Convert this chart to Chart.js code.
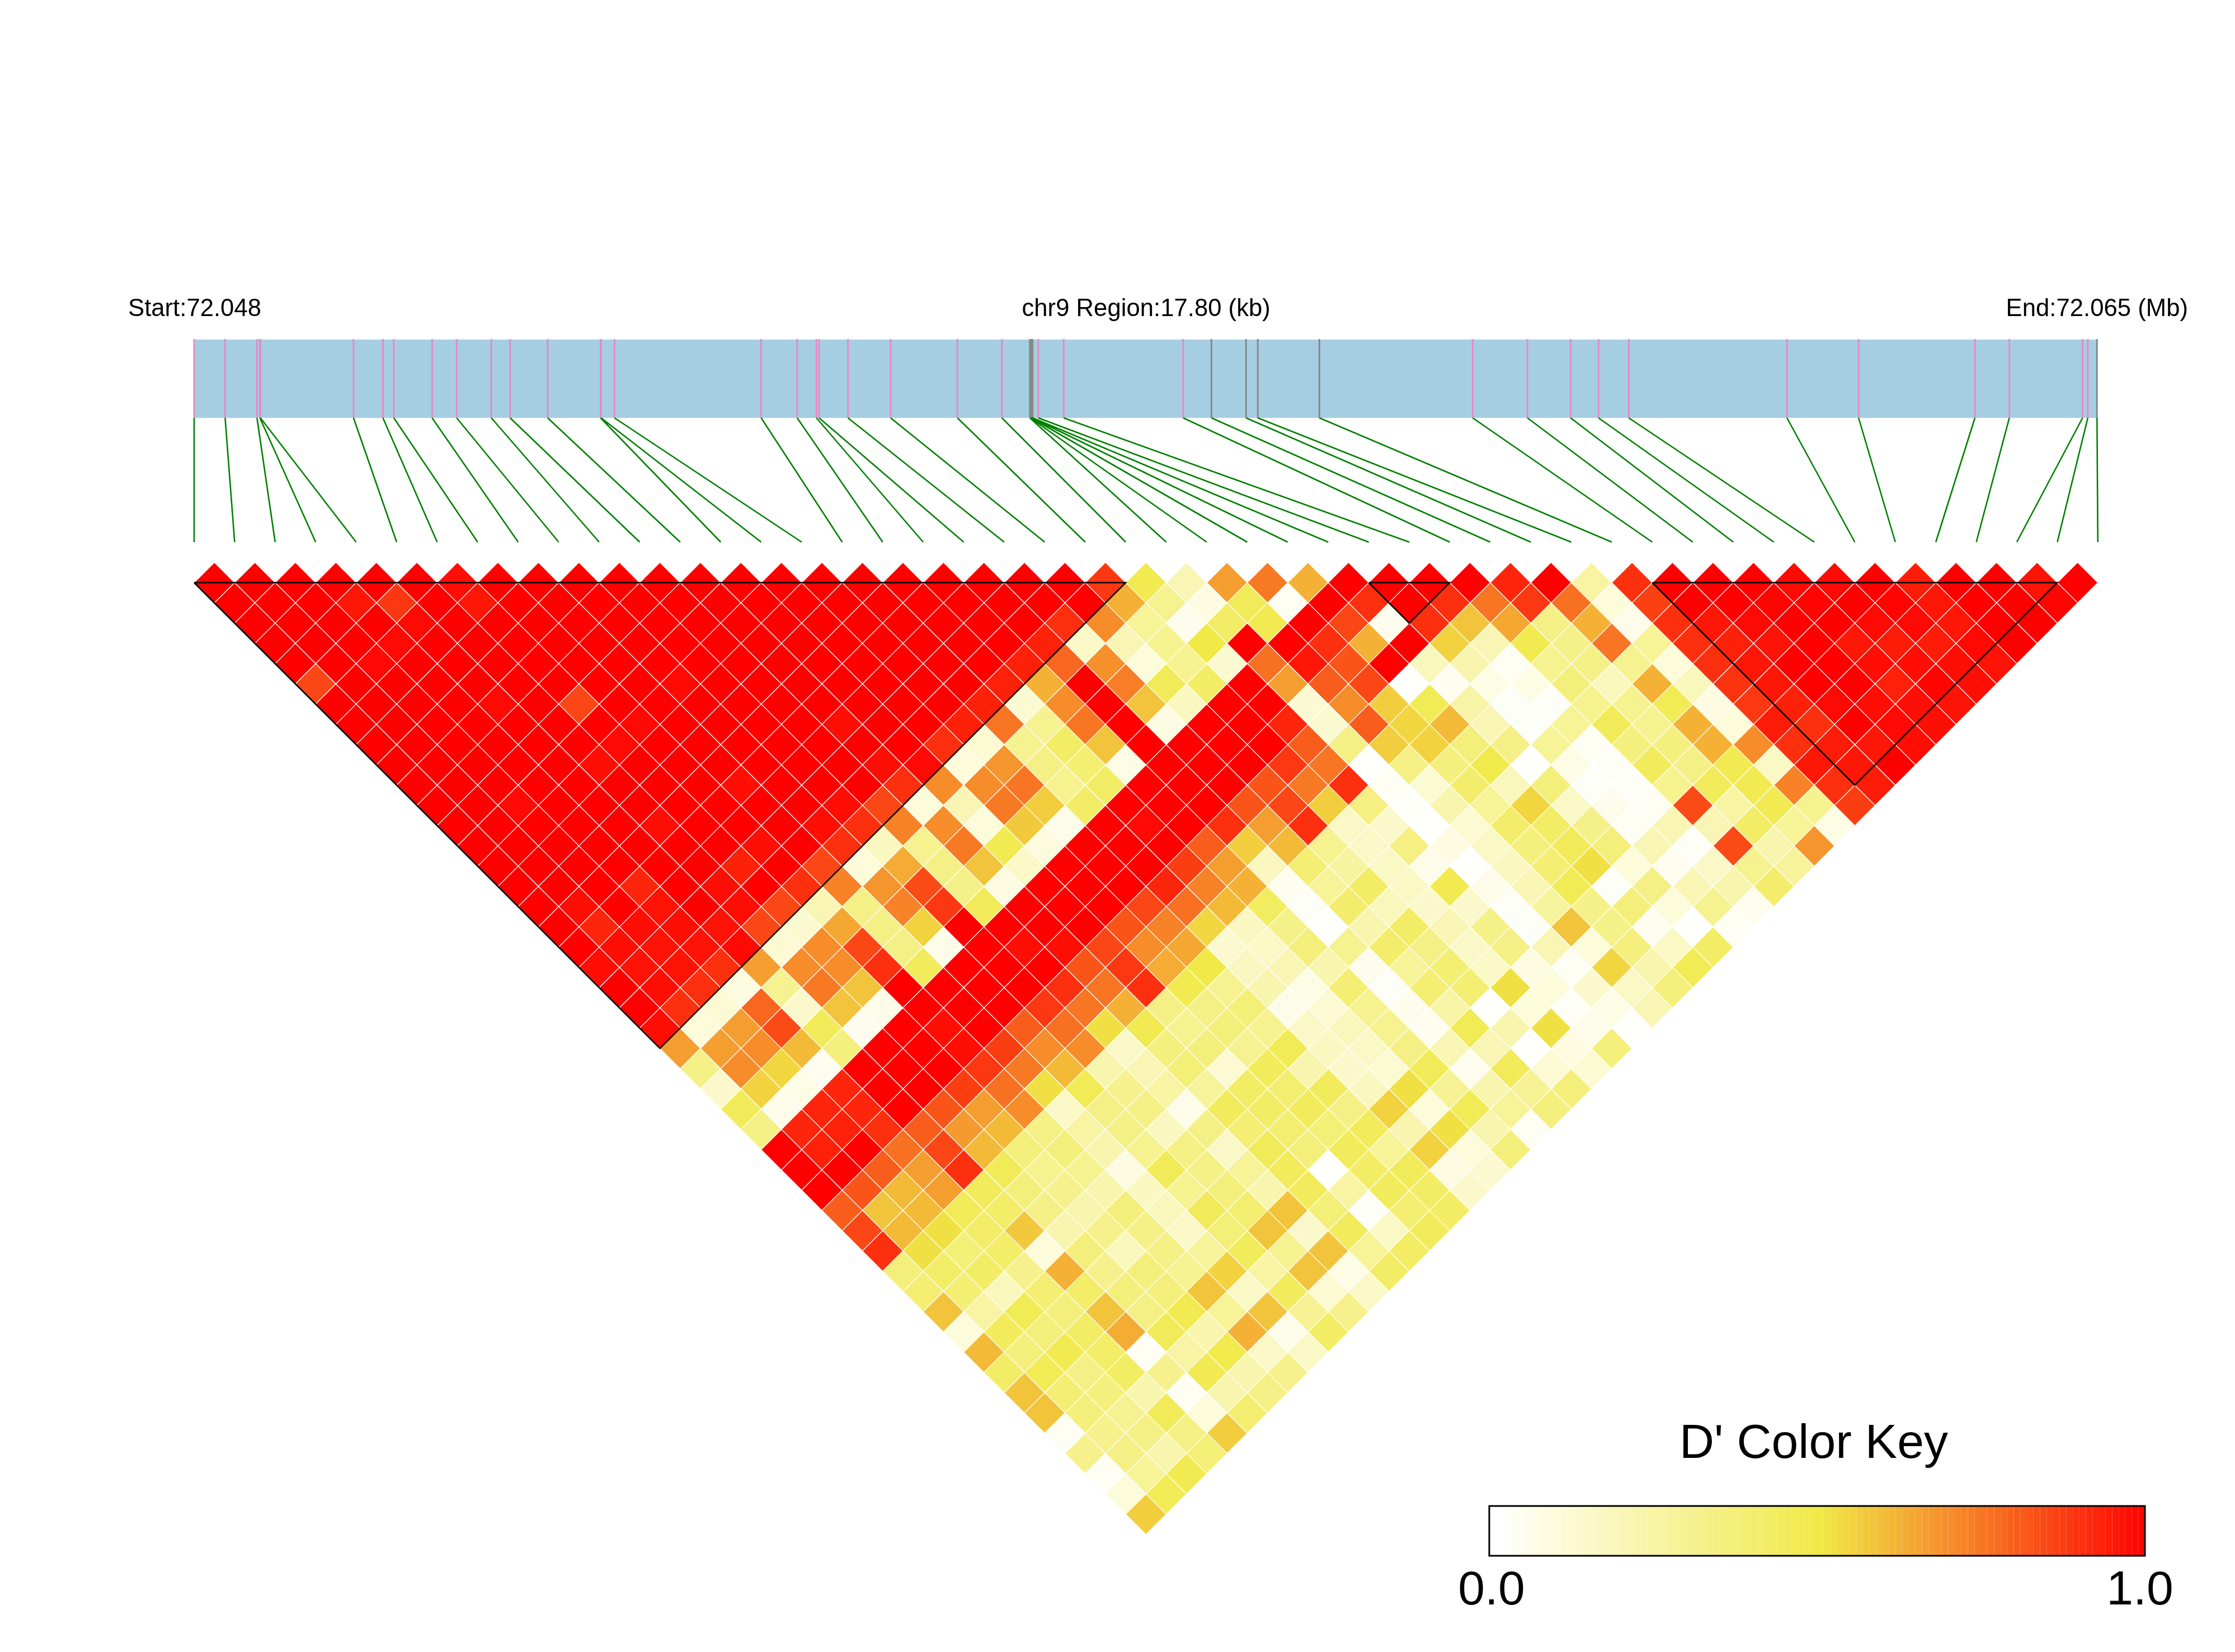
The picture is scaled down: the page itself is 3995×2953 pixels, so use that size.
<!DOCTYPE html>
<html>
<head>
<meta charset="utf-8">
<title>LD heatmap</title>
<style>
  html, body { margin: 0; padding: 0; background: #fff; }
  canvas { display: block; }
</style>
<script src="https://cdn.jsdelivr.net/npm/chart.js@4/dist/chart.umd.js"></script>
</head>
<body>
<canvas id="ldChart" width="3995" height="2953"></canvas>
<script>
// labels
const startLabel = 'Start:72.048';
const regionLabel = 'chr9 Region:17.80 (kb)';
const endLabel = 'End:72.065 (Mb)';
const keyTitle = "D' Color Key";
const keyTicks = ['0.0', '1.0'];

// SNP positions in kb from the region start
const snpKb = [0, 0.29, 0.588, 0.615, 0.62, 1.491, 1.766, 1.868, 2.226, 2.456, 2.78, 2.956, 3.307, 3.802, 3.807, 3.932,
  5.304, 5.641, 5.821, 5.846, 6.116, 6.515, 7.14, 7.556, 7.818, 7.823, 7.831, 7.838, 7.844, 7.896, 8.134, 9.252,
  9.516, 9.84, 9.95, 10.526, 11.96, 12.472, 12.876, 13.137, 13.42, 14.9, 15.57, 16.658, 16.98, 17.665, 17.714, 17.8];
const greySnps = [24, 25, 26, 27, 28, 32, 33, 34, 35, 47];
const regionKb = 17.8;

// haplotype blocks, first and last SNP
const blocks = [[0, 23], [29, 31], [36, 46]];

// D' by SNP distance: dN holds the pairs (i, i+N), i = 0, 1, 2 ...
const d1 = [1,1,1,1,1,1,.97,1,1,1,1,1,1,1,1,1,1,1,1,1,1,1,.88,.47,.2,.66,.74,.62,1,1,1,1,.92,1,.25,.9,1,1,1,.98,.98,1,.94,1,1,.96,1];
const d2 = [1,1,1,.95,.88,1,.95,1,1,1,1,1,1,1,1,1,1,1,1,1,1,1,.62,.3,.08,.45,.03,1,.9,1,.9,.75,.88,.76,.1,.86,1,1,.99,.99,1,.99,.95,1,1,.99];
const d3 = [1,1,1,1,.98,1,1,1,1,1,1,1,1,1,1,1,1,1,1,1,.9,.7,.28,.05,.42,.47,1,.85,.05,.9,.58,.64,.33,.62,.06,.9,.95,.98,1,1,.98,.98,.95,1,1];
const d4 = [1,1,1,.98,1,1,1,1,1,1,1,1,1,1,1,1,1,1,1,.93,.15,.2,.3,.5,1,1,.9,.62,1,.55,.2,.47,.32,.75,.28,.9,.93,.96,1,.95,.94,.94,.98,1];
const d5 = [1,1,.98,1,1,1,1,1,1,1,1,1,1,1,1,1,1,1,.93,.78,.69,.1,.3,.13,.76,.95,.82,1,.18,.22,.03,.3,.33,.3,.1,.9,.95,1,1,.97,.97,.97,.96];
const d6 = [.85,1,1,1,1,1,1,1,1,.98,1,1,1,1,1,1,1,.93,.62,1,.73,.45,.42,1,.66,.8,.85,.01,.04,.07,.07,.36,.18,.62,.18,.89,.95,1,1,.93,.99,.97];
const d7 = [1,1,1,1,.98,1,.85,1,1,1,1,1,1,1,1,1,.93,.12,.7,1,.58,.17,1,1,.12,.7,.56,.46,.24,.02,.02,.3,.3,.46,.08,.88,.93,.98,.97,.97,.96];
const d8 = [1,1,1,1,1,1,1,.98,1,1,1,1,.97,1,1,.93,.75,.3,.75,1,.08,1,1,.92,.13,.8,.54,.6,.2,.02,.28,.45,.3,.62,.1,.94,.9,1,.98,.97];
const d9 = [1,1,1,1,1,1,.98,1,1,1,1,1,1,1,.9,.12,.3,.42,.58,1,1,1,1,.8,.33,.56,.55,.36,.33,.28,.03,.35,.35,.62,.7,.9,.94,.95,.97];
const d10 = [1,1,1,1,1,.97,1,1,1,1,1,1,.97,.98,.1,.68,.33,.38,.07,1,1,1,.88,.75,.01,.33,.35,.48,.01,.07,.02,.44,.33,.47,.16,.95,.95,1];
const d11 = [1,1,1,1,1,1,1,1,.97,1,1,1,.9,.7,.7,.75,.3,.42,1,1,1,.82,.74,.9,.03,.12,.4,.18,.36,.02,.02,.3,.44,.47,.72,.9,.94];
const d12 = [1,1,.98,1,1,1,1,1,1,1,.97,.85,.1,.2,.74,.56,.42,1,1,1,.82,.85,.56,.34,.02,.22,.28,.54,.16,.05,.03,.84,.25,.47,.3,.87];
const d13 = [1,1,1,1,1,.97,1,1,1,.97,.9,.72,.7,.1,.57,.06,1,.98,1,.9,.66,.9,.15,.14,.01,.12,.4,.42,.32,.03,.2,.2,.42,.28,.07];
const d14 = [1,1,1,1,1,1,1,.97,1,.9,.17,.3,.74,.47,.09,1,1,1,.8,.56,.6,.3,.15,.34,.08,.16,.36,.45,.36,.2,.02,.84,.22,.68];
const d15 = [1,1,1,1,1,1,.93,1,.85,.1,.63,.33,.58,.15,1,1,1,.87,.66,.17,.38,.26,.16,.06,.01,.17,.38,.52,.1,.04,.15,.3,.27];
const d16 = [1,1,1,.92,1,.97,1,.9,.72,.68,.84,.32,.08,1,1,1,.92,.72,.62,.04,.28,.42,.16,.47,.06,.2,.46,.02,.33,.2,.22,.4];
const d17 = [1,.97,1,.96,1,.97,.85,.2,.33,.72,.88,.45,1,1,1,.85,.76,.6,.43,.02,.4,.18,.14,.14,.02,.26,.32,.36,.1,.3,.04];
const d18 = [1,.92,.97,.97,.96,.85,.13,.64,.33,.55,1,1,1,1,.82,.72,.54,.17,.32,.01,.22,.42,.2,.32,.02,.58,.32,.04,.01,.03];
const d19 = [1,.97,.96,.96,.98,.12,.7,.85,.33,.06,1,.97,.97,.85,.7,.64,.13,.16,.36,.3,.4,.33,.15,.33,.2,.1,.35,.16,.42];
const d20 = [.97,.96,.96,.9,.66,.7,.7,.9,.44,1,1,1,.82,.88,.63,.5,.17,.2,.22,.05,.28,.38,.16,.08,.03,.54,.22,.46];
const d21 = [1,.97,.9,.08,.3,.74,.58,1,1,1,1,.9,.75,.9,.47,.3,.22,.07,.38,.02,.38,.38,.52,.1,.14,.16,.36];
const d22 = [1,.9,.12,.78,.14,.58,.06,1,1,1,.88,.75,.62,.33,.33,.37,.06,.12,.3,.05,.24,.01,.1,.03,.07,.2];
const d23 = [.97,.1,.66,.84,.45,.05,1,.97,1,.8,.76,.52,.47,.3,.36,.3,.15,.18,.3,.04,.46,.22,.52,.06,.01];
const d24 = [.66,.66,.7,.6,.35,1,1,.97,.87,.7,.7,.15,.35,.36,.29,.46,.17,.16,.33,.2,.2,.01,.08,.36];
const d25 = [.33,.7,.54,.04,1,1,1,.88,.74,.6,.22,.2,.37,.12,.44,.22,.14,.12,.45,.04,.45,.12,.12];
const d26 = [.14,.55,.07,.92,1,1,.87,.76,.52,.46,.31,.25,.27,.42,.39,.44,.17,.52,.29,.22,.29,.36];
const d27 = [.45,.06,.92,.92,1,.82,.66,.7,.15,.33,.33,.06,.44,.42,.44,.33,.55,.1,.46,.28,.35];
const d28 = [.33,.92,.93,.9,.8,.67,.6,.33,.25,.33,.17,.33,.38,.39,.37,.44,.22,.52,.22,.03];
const d29 = [1,.93,1,.76,.85,.6,.36,.36,.22,.3,.33,.15,.45,.36,.44,.28,.55,.1,.36];
const d30 = [1,1,.8,.66,.9,.45,.3,.3,.08,.45,.33,.28,.44,.01,.42,.45,.08,.13];
const d31 = [1,.82,.6,.66,.44,.36,.31,.22,.17,.3,.36,.22,.44,.25,.44,.42,.14];
const d32 = [.8,.58,.6,.45,.41,.33,.22,.36,.18,.45,.39,.58,.37,.02,.38,.42];
const d33 = [.85,.6,.52,.41,.57,.22,.31,.33,.15,.37,.58,.14,.44,.16,.44];
const d34 = [.9,.52,.37,.41,.1,.36,.18,.33,.27,.44,.3,.58,.28,.42];
const d35 = [.36,.41,.42,.31,.62,.31,.36,.3,.55,.25,.58,.07,.42];
const d36 = [.38,.38,.18,.38,.41,.36,.36,.58,.16,.44,.12,.15];
const d37 = [.58,.25,.46,.36,.58,.33,.47,.28,.58,.29,.31];
const d38 = [.1,.44,.36,.42,.63,.45,.22,.62,.06,.42];
const d39 = [.6,.36,.47,.41,.03,.25,.48,.15,.15];
const d40 = [.42,.46,.33,.42,.31,.47,.22,.31];
const d41 = [.58,.38,.35,.22,.03,.22,.33];
const d42 = [.58,.36,.29,.45,.1,.39];
const d43 = [.03,.31,.33,.33,.56];
const d44 = [.31,.33,.22,.37];
const d45 = [.03,.28,.47];
const d46 = [.1,.46];
const d47 = [.56];

const rows = [d1, d2, d3, d4, d5, d6, d7, d8, d9, d10, d11, d12, d13, d14, d15, d16, d17, d18, d19, d20, d21, d22, d23, d24,
  d25, d26, d27, d28, d29, d30, d31, d32, d33, d34, d35, d36, d37, d38, d39, d40, d41, d42, d43, d44, d45, d46, d47];

// page geometry
const W = 3995;
const H = 2953;
const snpStep = 72.4;
const heatLeft = 347;
const heatTop = 1041.5;
const trackTop = 607;
const trackBottom = 747;
const trackRight = 3748.3;
const connectorEnd = 969;
const keyLeft = 2662;
const keyRight = 3834;
const keyTop = 2692;
const keyBottom = 2781;

function dPrimeColor(v) {
  const low = [255, 255, 255], mid = [240, 233, 70], high = [255, 0, 0];
  const a = v < 0.5 ? low : mid;
  const b = v < 0.5 ? mid : high;
  const t = v < 0.5 ? v / 0.5 : (v - 0.5) / 0.5;
  const c = a.map((s, n) => Math.round(s + (b[n] - s) * t));
  return `rgb(${c[0]},${c[1]},${c[2]})`;
}

const kbToPx = kb => heatLeft + kb / regionKb * (trackRight - heatLeft);
const gap = { x: NaN, y: NaN };

// heatmap cells, x in SNP index, y in rows below the top
const cells = [];
const cellColors = [];
rows.forEach((values, r) => {
  const dist = r + 1;
  values.forEach((v, i) => {
    cells.push({ x: i + dist / 2, y: dist });
    cellColors.push(dPrimeColor(v));
  });
});

const blockLines = blocks.map(([a, b]) => ({
  type: 'scatter', showLine: true, pointRadius: 0, borderColor: '#000', borderWidth: 2.5, order: 1,
  xAxisID: 'xSnp', yAxisID: 'yRow',
  data: [{ x: a, y: 1 }, { x: b, y: 1 }, { x: (a + b) / 2, y: b - a + 1 }, { x: a, y: 1 }]
}));

const pinkTicks = [];
const greyTicks = [];
const connectors = [];
snpKb.forEach((kb, i) => {
  const px = kbToPx(kb);
  const ticks = greySnps.includes(i) ? greyTicks : pinkTicks;
  ticks.push({ x: px, y: trackTop - 1 }, { x: px, y: trackBottom }, gap);
  connectors.push({ x: px, y: trackBottom }, { x: heatLeft + i * snpStep, y: connectorEnd }, gap);
});

const keySteps = [];
for (let s = 0; s <= 100; s++) keySteps.push(s / 100);
const keyMid = (keyTop + keyBottom) / 2;

function pxLine(data, color, width, order, extra) {
  return Object.assign({
    type: 'scatter', showLine: true, pointRadius: 0, borderColor: color, borderWidth: width, order,
    borderCapStyle: 'butt', xAxisID: 'xPx', yAxisID: 'yPx', data
  }, extra);
}

// text goes on last, through the same pixel scales as the track and the key
const textPlugin = {
  id: 'ldText',
  afterDraw(chart) {
    const { ctx } = chart;
    const x = chart.scales.xPx;
    const y = chart.scales.yPx;
    ctx.save();
    ctx.fillStyle = '#000';
    ctx.textAlign = 'center';
    ctx.textBaseline = 'alphabetic';
    ctx.font = '43.7px "Liberation Sans"';
    ctx.fillText(startLabel, x.getPixelForValue(heatLeft + 1), y.getPixelForValue(565));
    ctx.fillText(regionLabel, x.getPixelForValue((heatLeft + trackRight) / 2 + 1), y.getPixelForValue(565));
    ctx.fillText(endLabel, x.getPixelForValue(trackRight), y.getPixelForValue(565));
    ctx.font = '86px "Liberation Sans"';
    ctx.fillText(keyTitle, x.getPixelForValue(3242), y.getPixelForValue(2606));
    ctx.fillText(keyTicks[0], x.getPixelForValue(keyLeft + 4), y.getPixelForValue(2868));
    ctx.fillText(keyTicks[1], x.getPixelForValue(3825), y.getPixelForValue(2868));
    ctx.restore();
  }
};

new Chart(document.getElementById('ldChart'), {
  type: 'scatter',
  data: {
    datasets: [
      ...blockLines,
      {
        data: cells, xAxisID: 'xSnp', yAxisID: 'yRow', order: 2,
        pointStyle: 'rectRot', pointRadius: snpStep / 2, pointBorderColor: '#fff', pointBorderWidth: 1.2,
        pointBackgroundColor: cellColors
      },
      pxLine(connectors, '#008000', 2.6, 3),
      pxLine(pinkTicks, '#E78AC3', 3, 4),
      pxLine(greyTicks, '#888888', 3, 4),
      pxLine([{ x: heatLeft, y: (trackTop + trackBottom) / 2 }, { x: trackRight, y: (trackTop + trackBottom) / 2 }],
        '#A6CEE3', trackBottom - trackTop, 5),
      pxLine([{ x: keyLeft, y: keyTop }, { x: keyRight, y: keyTop }, { x: keyRight, y: keyBottom },
        { x: keyLeft, y: keyBottom }, { x: keyLeft, y: keyTop }], '#000', 3, 3, { borderCapStyle: 'square' }),
      pxLine(keySteps.map(v => ({ x: keyLeft + v * (keyRight - keyLeft), y: keyMid })), '#fff', keyBottom - keyTop, 4, {
        segment: {
          borderColor: ctx => dPrimeColor((ctx.p0.parsed.x - keyLeft) / (keyRight - keyLeft))
        }
      })
    ]
  },
  options: {
    responsive: false,
    devicePixelRatio: 1,
    animation: false,
    events: [],
    layout: { padding: 0, autoPadding: false },
    clip: false,
    plugins: { legend: { display: false }, tooltip: { enabled: false }, title: { display: false } },
    scales: {
      xSnp: { type: 'linear', display: false, min: -heatLeft / snpStep, max: (W - heatLeft) / snpStep },
      yRow: {
        type: 'linear', display: false, reverse: true,
        min: 1 - heatTop / (snpStep / 2), max: 1 + (H - heatTop) / (snpStep / 2)
      },
      xPx: { type: 'linear', display: false, min: 0, max: W },
      yPx: { type: 'linear', display: false, reverse: true, min: 0, max: H }
    }
  },
  plugins: [textPlugin]
});
</script>
</body>
</html>
